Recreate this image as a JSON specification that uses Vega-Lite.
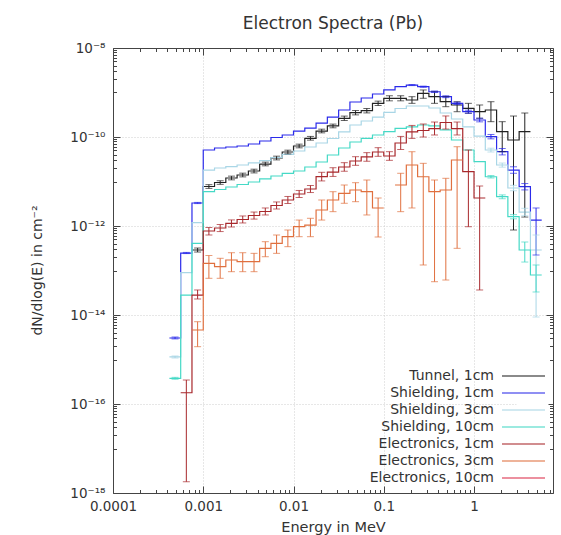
{
 "$schema": "https://vega.github.io/schema/vega-lite/v6.json",
 "width": 440,
 "height": 445,
 "autosize": {"type": "none"},
 "padding": {"left": 113, "top": 48, "right": 8, "bottom": 42},
 "background": "white",
 "config": {"font": "DejaVu Sans", "view": {"stroke": "#444", "strokeWidth": 1}},
 "title": {"text": "Electron Spectra (Pb)", "fontSize": 17, "fontWeight": "normal", "color": "#333", "offset": 8, "anchor": "middle"},
 "datasets": {
  "bins": [
   {"b":-27,"x0":0.0004217,"x1":0.00056234,"xc":0.00048697},
   {"b":-26,"x0":0.00056234,"x1":0.00074989,"xc":0.00064938},
   {"b":-25,"x0":0.00074989,"x1":0.001,"xc":0.00086596},
   {"b":-24,"x0":0.001,"x1":0.0013335,"xc":0.0011548},
   {"b":-23,"x0":0.0013335,"x1":0.0017783,"xc":0.0015399},
   {"b":-22,"x0":0.0017783,"x1":0.0023714,"xc":0.0020535},
   {"b":-21,"x0":0.0023714,"x1":0.0031623,"xc":0.0027384},
   {"b":-20,"x0":0.0031623,"x1":0.004217,"xc":0.0036517},
   {"b":-19,"x0":0.004217,"x1":0.0056234,"xc":0.0048697},
   {"b":-18,"x0":0.0056234,"x1":0.0074989,"xc":0.0064938},
   {"b":-17,"x0":0.0074989,"x1":0.01,"xc":0.0086596},
   {"b":-16,"x0":0.01,"x1":0.013335,"xc":0.011548},
   {"b":-15,"x0":0.013335,"x1":0.017783,"xc":0.015399},
   {"b":-14,"x0":0.017783,"x1":0.023714,"xc":0.020535},
   {"b":-13,"x0":0.023714,"x1":0.031623,"xc":0.027384},
   {"b":-12,"x0":0.031623,"x1":0.04217,"xc":0.036517},
   {"b":-11,"x0":0.04217,"x1":0.056234,"xc":0.048697},
   {"b":-10,"x0":0.056234,"x1":0.074989,"xc":0.064938},
   {"b":-9,"x0":0.074989,"x1":0.1,"xc":0.086596},
   {"b":-8,"x0":0.1,"x1":0.13335,"xc":0.11548},
   {"b":-7,"x0":0.13335,"x1":0.17783,"xc":0.15399},
   {"b":-6,"x0":0.17783,"x1":0.23714,"xc":0.20535},
   {"b":-5,"x0":0.23714,"x1":0.31623,"xc":0.27384},
   {"b":-4,"x0":0.31623,"x1":0.4217,"xc":0.36517},
   {"b":-3,"x0":0.4217,"x1":0.56234,"xc":0.48697},
   {"b":-2,"x0":0.56234,"x1":0.74989,"xc":0.64938},
   {"b":-1,"x0":0.74989,"x1":1,"xc":0.86596},
   {"b":0,"x0":1,"x1":1.3335,"xc":1.1548},
   {"b":1,"x0":1.3335,"x1":1.7783,"xc":1.5399},
   {"b":2,"x0":1.7783,"x1":2.3714,"xc":2.0535},
   {"b":3,"x0":2.3714,"x1":3.1623,"xc":2.7384},
   {"b":4,"x0":3.1623,"x1":4.217,"xc":3.6517},
   {"b":5,"x0":4.217,"x1":5.6234,"xc":4.8697}
  ],
  "spec": [
   {"s":"Tunnel, 1cm","b":-25,"y":2.89e-13,"lo":2.6e-13,"hi":3.2e-13},
   {"s":"Tunnel, 1cm","b":-24,"y":7.72e-12,"lo":7.0e-12,"hi":8.5e-12},
   {"s":"Tunnel, 1cm","b":-23,"y":9.49e-12,"lo":8.63e-12,"hi":1.04e-11},
   {"s":"Tunnel, 1cm","b":-22,"y":1.2e-11,"lo":1.09e-11,"hi":1.32e-11},
   {"s":"Tunnel, 1cm","b":-21,"y":1.4e-11,"lo":1.27e-11,"hi":1.54e-11},
   {"s":"Tunnel, 1cm","b":-20,"y":1.72e-11,"lo":1.56e-11,"hi":1.89e-11},
   {"s":"Tunnel, 1cm","b":-19,"y":2.47e-11,"lo":2.25e-11,"hi":2.72e-11},
   {"s":"Tunnel, 1cm","b":-18,"y":3.37e-11,"lo":3.06e-11,"hi":3.71e-11},
   {"s":"Tunnel, 1cm","b":-17,"y":4.6e-11,"lo":4.18e-11,"hi":5.06e-11},
   {"s":"Tunnel, 1cm","b":-16,"y":6.28e-11,"lo":5.71e-11,"hi":6.91e-11},
   {"s":"Tunnel, 1cm","b":-15,"y":9.35e-11,"lo":8.5e-11,"hi":1.03e-10},
   {"s":"Tunnel, 1cm","b":-14,"y":1.36e-10,"lo":1.24e-10,"hi":1.5e-10},
   {"s":"Tunnel, 1cm","b":-13,"y":1.77e-10,"lo":1.61e-10,"hi":1.95e-10},
   {"s":"Tunnel, 1cm","b":-12,"y":2.63e-10,"lo":2.35e-10,"hi":2.95e-10},
   {"s":"Tunnel, 1cm","b":-11,"y":3.52e-10,"lo":3.14e-10,"hi":3.94e-10},
   {"s":"Tunnel, 1cm","b":-10,"y":3.9e-10,"lo":3.48e-10,"hi":4.37e-10},
   {"s":"Tunnel, 1cm","b":-9,"y":5.71e-10,"lo":5.1e-10,"hi":6.4e-10},
   {"s":"Tunnel, 1cm","b":-8,"y":7.41e-10,"lo":6.5e-10,"hi":8.45e-10},
   {"s":"Tunnel, 1cm","b":-7,"y":7.41e-10,"lo":6.5e-10,"hi":8.45e-10},
   {"s":"Tunnel, 1cm","b":-6,"y":6.78e-10,"lo":5.71e-10,"hi":8.05e-10},
   {"s":"Tunnel, 1cm","b":-5,"y":9.59e-10,"lo":7.41e-10,"hi":1.14e-9},
   {"s":"Tunnel, 1cm","b":-4,"y":8.05e-10,"lo":5.71e-10,"hi":1.04e-9},
   {"s":"Tunnel, 1cm","b":-3,"y":6.21e-10,"lo":4.8e-10,"hi":8.05e-10},
   {"s":"Tunnel, 1cm","b":-2,"y":5.24e-10,"lo":3.7e-10,"hi":6.21e-10},
   {"s":"Tunnel, 1cm","b":-1,"y":4.42e-10,"lo":3.41e-10,"hi":5.71e-10},
   {"s":"Tunnel, 1cm","b":0,"y":3.7e-10,"lo":2.63e-10,"hi":5.24e-10},
   {"s":"Tunnel, 1cm","b":1,"y":4.04e-10,"lo":2.21e-10,"hi":6.21e-10},
   {"s":"Tunnel, 1cm","b":2,"y":1.32e-10,"lo":4.67e-11,"hi":2.21e-10},
   {"s":"Tunnel, 1cm","b":3,"y":8.56e-11,"lo":8.13e-13,"hi":2.96e-10},
   {"s":"Tunnel, 1cm","b":4,"y":1.32e-10,"lo":1.59e-12,"hi":3.46e-10},

   {"s":"Shielding, 1cm","b":-27,"y":3.04e-15,"lo":2.9e-15,"hi":3.2e-15},
   {"s":"Shielding, 1cm","b":-26,"y":2.47e-13,"lo":2.4e-13,"hi":2.55e-13},
   {"s":"Shielding, 1cm","b":-25,"y":3.29e-12,"lo":3.19e-12,"hi":3.39e-12},
   {"s":"Shielding, 1cm","b":-24,"y":5.1e-11},
   {"s":"Shielding, 1cm","b":-23,"y":5.66e-11},
   {"s":"Shielding, 1cm","b":-22,"y":5.96e-11},
   {"s":"Shielding, 1cm","b":-21,"y":6.28e-11},
   {"s":"Shielding, 1cm","b":-20,"y":6.96e-11},
   {"s":"Shielding, 1cm","b":-19,"y":8.13e-11},
   {"s":"Shielding, 1cm","b":-18,"y":9.75e-11},
   {"s":"Shielding, 1cm","b":-17,"y":1.11e-10},
   {"s":"Shielding, 1cm","b":-16,"y":1.36e-10},
   {"s":"Shielding, 1cm","b":-15,"y":1.59e-10},
   {"s":"Shielding, 1cm","b":-14,"y":2.06e-10},
   {"s":"Shielding, 1cm","b":-13,"y":2.81e-10},
   {"s":"Shielding, 1cm","b":-12,"y":4.04e-10},
   {"s":"Shielding, 1cm","b":-11,"y":6.11e-10},
   {"s":"Shielding, 1cm","b":-10,"y":7.52e-10},
   {"s":"Shielding, 1cm","b":-9,"y":9.25e-10},
   {"s":"Shielding, 1cm","b":-8,"y":1.14e-9},
   {"s":"Shielding, 1cm","b":-7,"y":1.36e-9},
   {"s":"Shielding, 1cm","b":-6,"y":1.47e-9,"lo":1.43e-9,"hi":1.51e-9},
   {"s":"Shielding, 1cm","b":-5,"y":1.35e-9,"lo":1.31e-9,"hi":1.39e-9},
   {"s":"Shielding, 1cm","b":-4,"y":1.04e-9,"lo":1.0e-9,"hi":1.08e-9},
   {"s":"Shielding, 1cm","b":-3,"y":8.05e-10,"lo":7.67e-10,"hi":8.45e-10},
   {"s":"Shielding, 1cm","b":-2,"y":5.71e-10,"lo":5.39e-10,"hi":6.05e-10},
   {"s":"Shielding, 1cm","b":-1,"y":3.7e-10,"lo":3.43e-10,"hi":4.0e-10},
   {"s":"Shielding, 1cm","b":0,"y":2.41e-10,"lo":2.19e-10,"hi":2.65e-10},
   {"s":"Shielding, 1cm","b":1,"y":1.02e-10,"lo":9.1e-11,"hi":1.14e-10},
   {"s":"Shielding, 1cm","b":2,"y":4.67e-11,"lo":3.96e-11,"hi":5.51e-11},
   {"s":"Shielding, 1cm","b":3,"y":1.81e-11,"lo":1.53e-11,"hi":2.14e-11},
   {"s":"Shielding, 1cm","b":4,"y":7.64e-12,"lo":6.47e-12,"hi":9.0e-12},
   {"s":"Shielding, 1cm","b":5,"y":1.36e-12,"lo":2.23e-13,"hi":2.54e-12},

   {"s":"Shielding, 3cm","b":-27,"y":1.14e-15,"lo":1.08e-15,"hi":1.2e-15},
   {"s":"Shielding, 3cm","b":-26,"y":8.93e-14},
   {"s":"Shielding, 3cm","b":-25,"y":1.19e-12},
   {"s":"Shielding, 3cm","b":-24,"y":1.81e-11},
   {"s":"Shielding, 3cm","b":-23,"y":2.01e-11},
   {"s":"Shielding, 3cm","b":-22,"y":2.17e-11},
   {"s":"Shielding, 3cm","b":-21,"y":2.35e-11},
   {"s":"Shielding, 3cm","b":-20,"y":2.61e-11},
   {"s":"Shielding, 3cm","b":-19,"y":2.96e-11},
   {"s":"Shielding, 3cm","b":-18,"y":3.46e-11},
   {"s":"Shielding, 3cm","b":-17,"y":4.05e-11},
   {"s":"Shielding, 3cm","b":-16,"y":4.84e-11},
   {"s":"Shielding, 3cm","b":-15,"y":5.96e-11},
   {"s":"Shielding, 3cm","b":-14,"y":7.33e-11},
   {"s":"Shielding, 3cm","b":-13,"y":9.25e-11},
   {"s":"Shielding, 3cm","b":-12,"y":1.3e-10},
   {"s":"Shielding, 3cm","b":-11,"y":1.86e-10},
   {"s":"Shielding, 3cm","b":-10,"y":2.29e-10},
   {"s":"Shielding, 3cm","b":-9,"y":2.81e-10},
   {"s":"Shielding, 3cm","b":-8,"y":3.56e-10},
   {"s":"Shielding, 3cm","b":-7,"y":4.37e-10},
   {"s":"Shielding, 3cm","b":-6,"y":4.97e-10},
   {"s":"Shielding, 3cm","b":-5,"y":4.97e-10},
   {"s":"Shielding, 3cm","b":-4,"y":4.49e-10},
   {"s":"Shielding, 3cm","b":-3,"y":3.46e-10},
   {"s":"Shielding, 3cm","b":-2,"y":2.54e-10},
   {"s":"Shielding, 3cm","b":-1,"y":1.68e-10},
   {"s":"Shielding, 3cm","b":0,"y":1.05e-10},
   {"s":"Shielding, 3cm","b":1,"y":5.1e-11,"lo":4.6e-11,"hi":5.6e-11},
   {"s":"Shielding, 3cm","b":2,"y":2.35e-11,"lo":2.1e-11,"hi":2.6e-11},
   {"s":"Shielding, 3cm","b":3,"y":7.14e-12,"lo":6.2e-12,"hi":8.2e-12},
   {"s":"Shielding, 3cm","b":4,"y":2.06e-12,"lo":1.7e-12,"hi":2.5e-12},
   {"s":"Shielding, 3cm","b":5,"y":2.89e-13,"lo":9.0e-15,"hi":6.28e-13},

   {"s":"Shielding, 10cm","b":-27,"y":3.78e-16,"lo":3.6e-16,"hi":3.97e-16},
   {"s":"Shielding, 10cm","b":-26,"y":2.81e-14},
   {"s":"Shielding, 10cm","b":-25,"y":4.08e-13},
   {"s":"Shielding, 10cm","b":-24,"y":5.9e-12},
   {"s":"Shielding, 10cm","b":-23,"y":6.61e-12},
   {"s":"Shielding, 10cm","b":-22,"y":7.52e-12},
   {"s":"Shielding, 10cm","b":-21,"y":8.56e-12},
   {"s":"Shielding, 10cm","b":-20,"y":9.75e-12},
   {"s":"Shielding, 10cm","b":-19,"y":1.14e-11},
   {"s":"Shielding, 10cm","b":-18,"y":1.33e-11},
   {"s":"Shielding, 10cm","b":-17,"y":1.53e-11},
   {"s":"Shielding, 10cm","b":-16,"y":1.72e-11},
   {"s":"Shielding, 10cm","b":-15,"y":2.12e-11},
   {"s":"Shielding, 10cm","b":-14,"y":2.74e-11},
   {"s":"Shielding, 10cm","b":-13,"y":3.94e-11},
   {"s":"Shielding, 10cm","b":-12,"y":5.66e-11},
   {"s":"Shielding, 10cm","b":-11,"y":7.72e-11},
   {"s":"Shielding, 10cm","b":-10,"y":9.35e-11},
   {"s":"Shielding, 10cm","b":-9,"y":1.11e-10},
   {"s":"Shielding, 10cm","b":-8,"y":1.32e-10},
   {"s":"Shielding, 10cm","b":-7,"y":1.57e-10},
   {"s":"Shielding, 10cm","b":-6,"y":1.68e-10},
   {"s":"Shielding, 10cm","b":-5,"y":1.86e-10},
   {"s":"Shielding, 10cm","b":-4,"y":1.77e-10},
   {"s":"Shielding, 10cm","b":-3,"y":1.44e-10},
   {"s":"Shielding, 10cm","b":-2,"y":8.56e-11},
   {"s":"Shielding, 10cm","b":-1,"y":5.1e-11},
   {"s":"Shielding, 10cm","b":0,"y":2.79e-11},
   {"s":"Shielding, 10cm","b":1,"y":1.28e-11,"lo":1.2e-11,"hi":1.36e-11},
   {"s":"Shielding, 10cm","b":2,"y":4.55e-12,"lo":4.1e-12,"hi":5.0e-12},
   {"s":"Shielding, 10cm","b":3,"y":1.62e-12,"lo":1.45e-12,"hi":1.8e-12},
   {"s":"Shielding, 10cm","b":4,"y":2.89e-13,"lo":1.55e-13,"hi":4.37e-13},
   {"s":"Shielding, 10cm","b":5,"y":7.92e-14,"lo":3.29e-14,"hi":1.33e-13},

   {"s":"Electronics, 1cm","b":-26,"y":1.79e-16,"lo":1.79e-18,"hi":3.46e-16},
   {"s":"Electronics, 1cm","b":-25,"y":2.81e-14,"lo":2.29e-14,"hi":3.65e-14},
   {"s":"Electronics, 1cm","b":-24,"y":7.72e-13,"lo":6.28e-13,"hi":9.25e-13},
   {"s":"Electronics, 1cm","b":-23,"y":9.02e-13,"lo":7.5e-13,"hi":1.08e-12},
   {"s":"Electronics, 1cm","b":-22,"y":1.14e-12,"lo":9.5e-13,"hi":1.37e-12},
   {"s":"Electronics, 1cm","b":-21,"y":1.4e-12,"lo":1.17e-12,"hi":1.68e-12},
   {"s":"Electronics, 1cm","b":-20,"y":1.72e-12,"lo":1.43e-12,"hi":2.06e-12},
   {"s":"Electronics, 1cm","b":-19,"y":2.12e-12,"lo":1.77e-12,"hi":2.54e-12},
   {"s":"Electronics, 1cm","b":-18,"y":2.89e-12,"lo":2.41e-12,"hi":3.47e-12},
   {"s":"Electronics, 1cm","b":-17,"y":3.84e-12,"lo":3.2e-12,"hi":4.61e-12},
   {"s":"Electronics, 1cm","b":-16,"y":5.24e-12,"lo":4.37e-12,"hi":6.29e-12},
   {"s":"Electronics, 1cm","b":-15,"y":6.78e-12,"lo":5.65e-12,"hi":8.14e-12},
   {"s":"Electronics, 1cm","b":-14,"y":1.29e-11,"lo":1.03e-11,"hi":1.61e-11},
   {"s":"Electronics, 1cm","b":-13,"y":1.63e-11,"lo":1.3e-11,"hi":2.04e-11},
   {"s":"Electronics, 1cm","b":-12,"y":2.12e-11,"lo":1.7e-11,"hi":2.65e-11},
   {"s":"Electronics, 1cm","b":-11,"y":2.89e-11,"lo":2.31e-11,"hi":3.61e-11},
   {"s":"Electronics, 1cm","b":-10,"y":3.56e-11,"lo":2.85e-11,"hi":4.45e-11},
   {"s":"Electronics, 1cm","b":-9,"y":4.6e-11,"lo":3.68e-11,"hi":5.75e-11},
   {"s":"Electronics, 1cm","b":-8,"y":3.74e-11,"lo":2.99e-11,"hi":4.68e-11},
   {"s":"Electronics, 1cm","b":-7,"y":7.33e-11,"lo":5.24e-11,"hi":1.03e-10},
   {"s":"Electronics, 1cm","b":-6,"y":1.3e-10,"lo":9.3e-11,"hi":1.82e-10},
   {"s":"Electronics, 1cm","b":-5,"y":1.4e-10,"lo":1.0e-10,"hi":1.96e-10},
   {"s":"Electronics, 1cm","b":-4,"y":1.55e-10,"lo":1.11e-10,"hi":2.17e-10},
   {"s":"Electronics, 1cm","b":-3,"y":2.12e-10,"lo":1.51e-10,"hi":2.97e-10},
   {"s":"Electronics, 1cm","b":-2,"y":1.55e-10,"lo":1.11e-10,"hi":2.17e-10},
   {"s":"Electronics, 1cm","b":-1,"y":1.66e-11,"lo":9.64e-13,"hi":5.1e-11},
   {"s":"Electronics, 1cm","b":0,"y":4.26e-12,"lo":3.65e-14,"hi":7.92e-12},

   {"s":"Electronics, 3cm","b":-25,"y":4.6e-15,"lo":1.94e-15,"hi":7.07e-15},
   {"s":"Electronics, 3cm","b":-24,"y":1.45e-13,"lo":6.68e-14,"hi":2.17e-13},
   {"s":"Electronics, 3cm","b":-23,"y":1.22e-13,"lo":6.68e-14,"hi":1.88e-13},
   {"s":"Electronics, 3cm","b":-22,"y":1.72e-13,"lo":9.4e-14,"hi":2.51e-13},
   {"s":"Electronics, 3cm","b":-21,"y":1.58e-13,"lo":9.4e-14,"hi":2.51e-13},
   {"s":"Electronics, 3cm","b":-20,"y":1.58e-13,"lo":9.4e-14,"hi":2.43e-13},
   {"s":"Electronics, 3cm","b":-19,"y":3.15e-13,"lo":2.04e-13,"hi":4.44e-13},
   {"s":"Electronics, 3cm","b":-18,"y":4.08e-13,"lo":2.43e-13,"hi":6.28e-13},
   {"s":"Electronics, 3cm","b":-17,"y":5.75e-13,"lo":3.43e-13,"hi":8.13e-13},
   {"s":"Electronics, 3cm","b":-16,"y":9.64e-13,"lo":5.75e-13,"hi":1.36e-12},
   {"s":"Electronics, 3cm","b":-15,"y":1.05e-12,"lo":5.75e-13,"hi":1.49e-12},
   {"s":"Electronics, 3cm","b":-14,"y":2.29e-12,"lo":1.36e-12,"hi":3.84e-12},
   {"s":"Electronics, 3cm","b":-13,"y":3.84e-12,"lo":2.1e-12,"hi":5.9e-12},
   {"s":"Electronics, 3cm","b":-12,"y":5.43e-12,"lo":3.24e-12,"hi":8.34e-12},
   {"s":"Electronics, 3cm","b":-11,"y":6.44e-12,"lo":3.52e-12,"hi":9.4e-12},
   {"s":"Electronics, 3cm","b":-10,"y":5.9e-12,"lo":1.77e-12,"hi":1.08e-11},
   {"s":"Electronics, 3cm","b":-9,"y":2.54e-12,"lo":5.66e-13,"hi":4.26e-12},
   {"s":"Electronics, 3cm","b":-8,"y":null},
   {"s":"Electronics, 3cm","b":-7,"y":8.34e-12,"lo":2.1e-12,"hi":1.53e-11},
   {"s":"Electronics, 3cm","b":-6,"y":2.35e-11,"lo":2.54e-12,"hi":4.67e-11},
   {"s":"Electronics, 3cm","b":-5,"y":1.28e-11,"lo":1.33e-13,"hi":2.56e-11},
   {"s":"Electronics, 3cm","b":-4,"y":5.9e-12,"lo":5.6e-14,"hi":1.08e-11},
   {"s":"Electronics, 3cm","b":-3,"y":6.44e-12,"lo":6.11e-14,"hi":1.18e-11},
   {"s":"Electronics, 3cm","b":-2,"y":3.04e-11,"lo":3.15e-13,"hi":6.05e-11}
  ]
 },
 "layer": [
  {
   "data": {"name": "spec"},
   "transform": [
    {"lookup": "b", "from": {"data": {"name": "bins"}, "key": "b", "fields": ["x0", "x1"]}},
    {"fold": ["x0", "x1"], "as": ["edge", "ex"]}
   ],
   "mark": {"type": "line", "strokeWidth": 1.2, "invalid": "break-paths-filter-domains", "clip": true},
   "encoding": {
    "x": {"field": "ex", "type": "quantitative",
     "scale": {"type": "log", "domain": [0.0001, 7.5], "nice": false},
     "axis": {
      "orient": "bottom",
      "values": [0.0001,0.0002,0.0003,0.0004,0.0005,0.0006,0.0007,0.0008,0.0009,0.001,0.002,0.003,0.004,0.005,0.006,0.007,0.008,0.009,0.01,0.02,0.03,0.04,0.05,0.06,0.07,0.08,0.09,0.1,0.2,0.3,0.4,0.5,0.6,0.7,0.8,0.9,1,2,3,4,5,6,7],
      "title": "Energy in MeV", "titleFontSize": 14.5, "titleFontWeight": "normal", "titleColor": "#333",
      "titleX": 220, "titleY": 34, "titleBaseline": "middle",
      "labelExpr": "abs(log(datum.value)/LN10 - round(log(datum.value)/LN10)) < 1e-6 ? format(datum.value, '~g') : ''",
      "labelFontSize": 13.5, "labelColor": "#333", "labelFlush": false, "labelOverlap": false, "labelPadding": 13,
      "tickSize": {"condition": {"test": "abs(log(datum.value)/LN10 - round(log(datum.value)/LN10)) < 1e-6", "value": -7}, "value": -3.5},
      "tickColor": "#444",
      "grid": true, "gridColor": "#cfcfcf", "gridDash": [1, 2],
      "gridOpacity": {"condition": {"test": "abs(log(datum.value)/LN10 - round(log(datum.value)/LN10)) < 1e-6 && datum.value > 0.00011", "value": 1}, "value": 0},
      "domain": false
     }
    },
    "y": {"field": "y", "type": "quantitative",
     "scale": {"type": "log", "domain": [1e-18, 1e-8], "nice": false},
     "axis": {
      "orient": "left",
      "values": [1e-18,1e-17,2e-17,3e-17,4e-17,5e-17,6e-17,7e-17,8e-17,9e-17,1e-16,1e-15,2e-15,3e-15,4e-15,5e-15,6e-15,7e-15,8e-15,9e-15,1e-14,1e-13,2e-13,3e-13,4e-13,5e-13,6e-13,7e-13,8e-13,9e-13,1e-12,1e-11,2e-11,3e-11,4e-11,5e-11,6e-11,7e-11,8e-11,9e-11,1e-10,1e-9,2e-9,3e-9,4e-9,5e-9,6e-9,7e-9,8e-9,9e-9,1e-8],
      "title": "dN/dlog(E) in cm⁻²", "titleFontSize": 14, "titleFontWeight": "normal", "titleColor": "#333",
      "titleX": -76, "titleY": 222, "titleBaseline": "middle",
      "labelExpr": "(abs(log(datum.value)/LN10 - round(log(datum.value)/LN10)) < 1e-6 && round(log(datum.value)/LN10) % 2 == 0) ? '10' + replace(replace(replace(replace(replace(replace(replace(toString(round(log(datum.value)/LN10)), '-', '⁻'), '0', '⁰'), '1', '¹'), '2', '²'), '4', '⁴'), '6', '⁶'), '8', '⁸') : ''",
      "labelFontSize": 13.5, "labelColor": "#333", "labelFlush": false, "labelOverlap": false, "labelPadding": 15,
      "tickSize": {"condition": {"test": "abs(log(datum.value)/LN10 - round(log(datum.value)/LN10)) < 1e-6 && round(log(datum.value)/LN10) % 2 == 0", "value": -7}, "value": -3.5},
      "tickColor": "#444",
      "grid": true, "gridColor": "#cfcfcf", "gridDash": [1, 2],
      "gridOpacity": {"condition": {"test": "abs(log(datum.value)/LN10 - round(log(datum.value)/LN10)) < 1e-6 && round(log(datum.value)/LN10) % 2 == 0 && datum.value > 1.1e-18 && datum.value < 0.9e-8", "value": 1}, "value": 0},
      "domain": false
     }
    },
    "color": {"field": "s", "type": "nominal",
     "scale": {
      "domain": ["Tunnel, 1cm", "Shielding, 1cm", "Shielding, 3cm", "Shielding, 10cm", "Electronics, 1cm", "Electronics, 3cm", "Electronics, 10cm"],
      "range": ["#222222", "#2b2bea", "#a9d6e6", "#45d9c6", "#a8282c", "#e0703f", "#dd2e4a"]
     },
     "legend": {
      "orient": "none", "legendX": 403.5, "legendY": 321, "title": null,
      "symbolType": "M-4.3,0H4.3", "symbolSize": 100, "symbolStrokeWidth": 1.3,
      "rowPadding": 3, "padding": 0, "fillColor": "white",
      "labelAlign": "right", "labelOffset": -36.5, "labelFontSize": 14, "labelColor": "#333", "labelLimit": 300
     }
    },
    "order": [{"field": "ex", "type": "quantitative"}, {"field": "edge", "type": "nominal", "sort": "descending"}]
   }
  },
  {
   "data": {"name": "spec"},
   "transform": [
    {"filter": "isValid(datum.lo) && isValid(datum.hi)"},
    {"lookup": "b", "from": {"data": {"name": "bins"}, "key": "b", "fields": ["xc"]}}
   ],
   "mark": {"type": "rule", "strokeWidth": 1, "clip": true},
   "encoding": {
    "x": {"field": "xc", "type": "quantitative",
     "scale": {"type": "log", "domain": [0.0001, 7.5], "nice": false},
     "axis": {
      "orient": "top", "title": null, "labels": false, "grid": false, "domain": false,
      "values": [0.0001,0.0002,0.0003,0.0004,0.0005,0.0006,0.0007,0.0008,0.0009,0.001,0.002,0.003,0.004,0.005,0.006,0.007,0.008,0.009,0.01,0.02,0.03,0.04,0.05,0.06,0.07,0.08,0.09,0.1,0.2,0.3,0.4,0.5,0.6,0.7,0.8,0.9,1,2,3,4,5,6,7],
      "tickSize": {"condition": {"test": "abs(log(datum.value)/LN10 - round(log(datum.value)/LN10)) < 1e-6", "value": -7}, "value": -3.5},
      "tickColor": "#444"
     }
    },
    "y": {"field": "lo", "type": "quantitative",
     "scale": {"type": "log", "domain": [1e-18, 1e-8], "nice": false},
     "axis": {
      "orient": "right", "title": null, "labels": false, "grid": false, "domain": false,
      "values": [1e-18,1e-17,2e-17,3e-17,4e-17,5e-17,6e-17,7e-17,8e-17,9e-17,1e-16,1e-15,2e-15,3e-15,4e-15,5e-15,6e-15,7e-15,8e-15,9e-15,1e-14,1e-13,2e-13,3e-13,4e-13,5e-13,6e-13,7e-13,8e-13,9e-13,1e-12,1e-11,2e-11,3e-11,4e-11,5e-11,6e-11,7e-11,8e-11,9e-11,1e-10,1e-9,2e-9,3e-9,4e-9,5e-9,6e-9,7e-9,8e-9,9e-9,1e-8],
      "tickSize": {"condition": {"test": "abs(log(datum.value)/LN10 - round(log(datum.value)/LN10)) < 1e-6 && round(log(datum.value)/LN10) % 2 == 0", "value": -7}, "value": -3.5},
      "tickColor": "#444"
     }
    },
    "y2": {"field": "hi"},
    "color": {"field": "s", "type": "nominal"}
   }
  },
  {
   "data": {"name": "spec"},
   "transform": [
    {"filter": "isValid(datum.lo) && isValid(datum.hi)"},
    {"lookup": "b", "from": {"data": {"name": "bins"}, "key": "b", "fields": ["xc"]}},
    {"fold": ["lo", "hi"], "as": ["end", "ev"]}
   ],
   "mark": {"type": "tick", "orient": "horizontal", "size": 7, "thickness": 1, "clip": true},
   "encoding": {
    "x": {"field": "xc", "type": "quantitative", "scale": {"type": "log", "domain": [0.0001, 7.5], "nice": false}, "axis": null},
    "y": {"field": "ev", "type": "quantitative", "scale": {"type": "log", "domain": [1e-18, 1e-8], "nice": false}, "axis": null},
    "color": {"field": "s", "type": "nominal"}
   }
  }
 ],
 "resolve": {"axis": {"x": "independent", "y": "independent"}}
}
